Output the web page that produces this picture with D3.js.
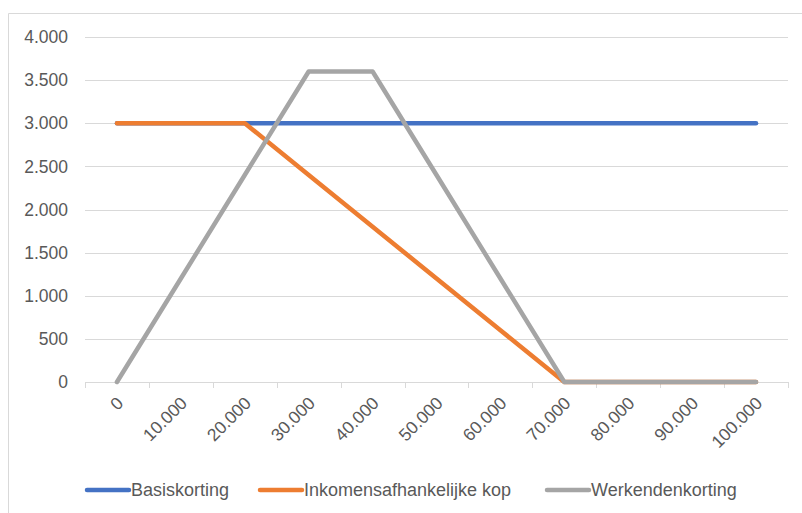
<!DOCTYPE html>
<html><head><meta charset="utf-8">
<script src="https://cdn.jsdelivr.net/npm/d3@7"></script>
<style>body{margin:0;background:#fff}svg{display:block}text{font-family:"Liberation Sans",Arial,sans-serif;fill:#595959}</style>
</head><body><svg id="c" width="802" height="513"></svg>
<script>
const categories = [0,10000,20000,30000,40000,50000,60000,70000,80000,90000,100000];
const basiskorting = [3000,3000,3000,3000,3000,3000,3000,3000,3000,3000,3000];
const inkomensafhankelijkeKop = [3000,3000,3000,2400,1800,1200,600,0,0,0,0];
const werkendenkorting = [0,1200,2400,3600,3600,2400,1200,0,0,0,0];
const yTicks = [0,500,1000,1500,2000,2500,3000,3500,4000];
const seriesNames = ["Basiskorting","Inkomensafhankelijke kop","Werkendenkorting"];
const seriesColors = ["#4472C4","#ED7D31","#A5A5A5"];
const seriesValues = [basiskorting, inkomensafhankelijkeKop, werkendenkorting];

const fmt = v => d3.format(",")(v).replace(/,/g,".");
const svg = d3.select("#c");
svg.append("path").attr("d","M8.5,513 L8.5,13.5 L802,13.5").attr("fill","none").attr("stroke","#d9d9d9");

const x = d3.scaleBand().domain(categories).range([85,788]);
const y = d3.scaleLinear().domain([0,4000]).range([382,37]);

svg.append("g").selectAll("line").data(yTicks).join("line")
  .attr("x1",85).attr("x2",788).attr("y1",d=>Math.round(y(d))+0.5).attr("y2",d=>Math.round(y(d))+0.5)
  .attr("stroke","#d9d9d9").attr("stroke-width",1);

svg.append("g").selectAll("text").data(yTicks).join("text")
  .attr("x",68).attr("y",d=>y(d)).attr("dy","0.35em").attr("text-anchor","end")
  .attr("font-size",17.5).text(fmt);

const bounds = categories.map(c=>x(c)).concat([x(categories[categories.length-1])+x.bandwidth()]);
svg.append("g").selectAll("line").data(bounds).join("line")
  .attr("x1",d=>Math.round(d)+0.5).attr("x2",d=>Math.round(d)+0.5).attr("y1",382).attr("y2",388)
  .attr("stroke","#d9d9d9");

svg.append("g").selectAll("text").data(categories).join("text")
  .attr("transform",d=>`translate(${x(d)+x.bandwidth()/2+3},${400}) rotate(-45)`)
  .attr("text-anchor","end").attr("dy","0.35em").attr("font-size",17.5).text(fmt);

const line = d3.line().x((d,i)=>x(categories[i])+x.bandwidth()/2).y(d=>y(d));
seriesValues.forEach((vals,k)=>{
  svg.append("path").datum(vals).attr("d",line).attr("fill","none")
    .attr("stroke",seriesColors[k]).attr("stroke-width",4.5)
    .attr("stroke-linejoin","round").attr("stroke-linecap","round");
});

const legX = [85,258,545];
const leg = svg.append("g").selectAll("g").data(seriesNames).join("g")
  .attr("transform",(d,i)=>`translate(${legX[i]},490)`);
leg.append("line").attr("x1",2).attr("x2",44).attr("stroke",(d,i)=>seriesColors[i])
  .attr("stroke-width",4.5).attr("stroke-linecap","round");
leg.append("text").attr("x",46).attr("dy","0.35em").attr("font-size",18).text(d=>d);
</script></body></html>
